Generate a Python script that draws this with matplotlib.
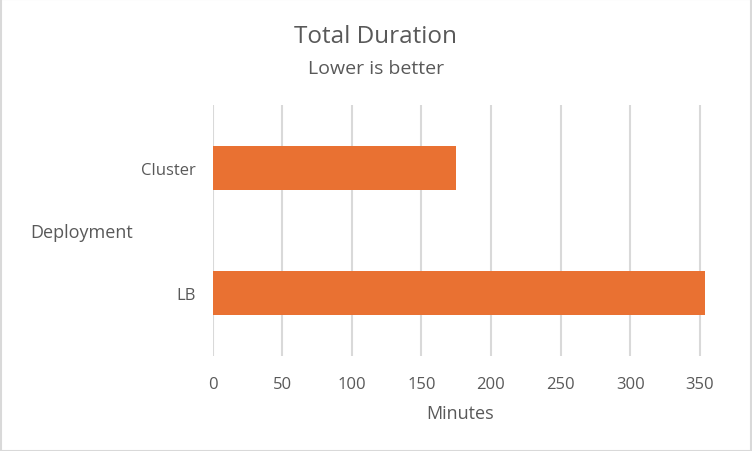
import matplotlib
matplotlib.use("Agg")
import matplotlib.pyplot as plt
from matplotlib.patches import Rectangle

categories = ["LB", "Cluster"]
minutes = [354, 175]
xticks = [0, 50, 100, 150, 200, 250, 300, 350]

TEXT = "#595959"
GRID = "#D9D9D9"
BAR = "#E97132"

plt.rcParams['font.family'] = ['Open Sans', 'DejaVu Sans']

fig = plt.figure(figsize=(7.52, 4.52), dpi=100)
ax = fig.add_axes([0.2826, 0.210, 0.659, 0.5555])

ax.barh(categories, minutes, height=0.35, color=BAR, zorder=3)
ax.set_xlim(0, 356)
ax.set_ylim(-0.5, 1.5)
ax.set_xticks(xticks)
ax.grid(axis='x', color=GRID, linewidth=1.5, zorder=0)
for s in ax.spines.values():
    s.set_visible(False)
ax.tick_params(axis='both', length=0, colors=TEXT, labelsize=12)
ax.tick_params(axis='y', pad=12)
ax.tick_params(axis='x', pad=14)
for lbl in ax.get_xticklabels() + ax.get_yticklabels():
    lbl.set_color(TEXT)

ax.set_xlabel("Minutes", color=TEXT, fontsize=13, labelpad=9)

fig.text(0.5, 0.918, "Total Duration", ha='center', va='center', fontsize=17.5, color=TEXT)
fig.text(0.5, 0.848, "Lower is better", ha='center', va='center', fontsize=14, color=TEXT)
fig.text(0.04, 0.484, "Deployment", ha='left', va='center', fontsize=13, color=TEXT)

fig.patches.append(Rectangle((0.001, 0.001), 0.998, 0.998, transform=fig.transFigure,
                             fill=False, edgecolor=GRID, linewidth=1.5))

fig.savefig("out.png", dpi=100)
